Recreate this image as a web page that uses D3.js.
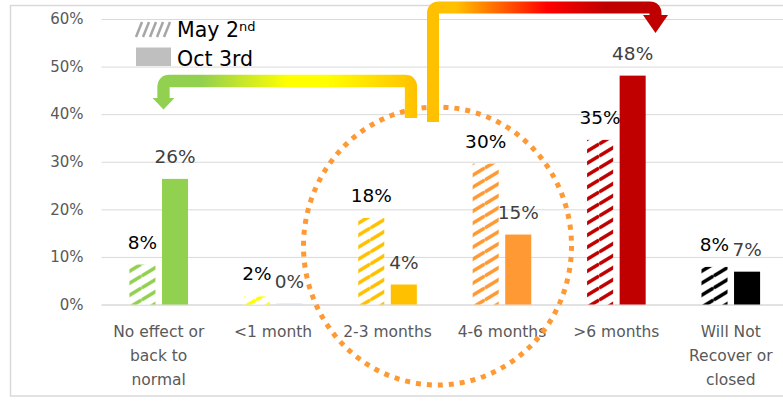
<!DOCTYPE html>
<html>
<head>
<meta charset="utf-8">
<script src="https://cdn.jsdelivr.net/npm/d3@7"></script>
<style>
  body { margin: 0; background: #fff; }
  text { font-family: "DejaVu Sans", sans-serif; }
</style>
</head>
<body>
<div id="chart"></div>
<script>
const categories = ["No effect or\nback to\nnormal", "<1 month", "2-3 months", "4-6 months", ">6 months", "Will Not\nRecover or\nclosed"];
const series = ["May", "Oct"];
const mayValues = [8.4, 1.7, 18.2, 29.6, 34.6, 7.9];
const octValues = [26.4, 0.2, 4.2, 14.7, 48.1, 6.9];
const catColors = ["#92D050", "#FFFF00", "#FFC000", "#FF9933", "#C00000", "#000000"];
const yTicks = [0, 10, 20, 30, 40, 50, 60];

document.addEventListener("DOMContentLoaded", function() {

  const width = 783;
  const height = 401;

  const svg = d3.select("#chart")
                .append("svg")
                .attr("width", width)
                .attr("height", height);

  const defs = svg.append("defs");

  // hatch patterns for the May bars
  catColors.forEach((c, i) => {
    const p = defs.append("pattern")
                  .attr("id", "hatch" + i)
                  .attr("patternUnits", "userSpaceOnUse")
                  .attr("width", 20)
                  .attr("height", 12);
    p.append("rect").attr("width", 20).attr("height", 12).attr("fill", "#fff");
    [-12, 0, 12].forEach(o => {
      p.append("line")
       .attr("x1", 0).attr("y1", 12 + o)
       .attr("x2", 20).attr("y2", o)
       .attr("stroke", c)
       .attr("stroke-width", 3.6);
    });
  });

  // gradients for the two arrows
  const g1 = defs.append("linearGradient")
                 .attr("id", "grad1")
                 .attr("gradientUnits", "userSpaceOnUse")
                 .attr("x1", 157).attr("x2", 418).attr("y1", 0).attr("y2", 0);
  [[0, "#92D050"], [0.17, "#92D050"], [0.5, "#FFFF00"], [0.65, "#FFFF00"], [1, "#FFC000"]]
    .forEach(s => g1.append("stop").attr("offset", s[0]).attr("stop-color", s[1]));

  const g2 = defs.append("linearGradient")
                 .attr("id", "grad2")
                 .attr("gradientUnits", "userSpaceOnUse")
                 .attr("x1", 427).attr("x2", 668).attr("y1", 0).attr("y2", 0);
  [[0, "#FFC000"], [0.12, "#FFC000"], [0.5, "#FF0000"], [0.74, "#C00000"], [1, "#C00000"]]
    .forEach(s => g2.append("stop").attr("offset", s[0]).attr("stop-color", s[1]));

  // chart border
  svg.append("rect")
     .attr("x", 10.5).attr("y", 5.5)
     .attr("width", 800).attr("height", 390.5)
     .attr("fill", "none")
     .attr("stroke", "#D9D9D9")
     .attr("stroke-width", 1.5);

  const x = d3.scaleBand()
              .domain(categories)
              .range([101.5, 788]);

  const bw = x.bandwidth();
  const xSub = d3.scaleBand()
                 .domain(series)
                 .range([bw / 2 - 29.3, bw / 2 + 29.3])
                 .paddingInner(0.2);

  const y = d3.scaleLinear()
              .domain([0, 60])
              .range([304.5, 19]);

  // gridlines + y labels
  const yAxis = svg.append("g")
                   .attr("transform", "translate(101.5,0)")
                   .call(d3.axisLeft(y)
                           .tickValues(yTicks)
                           .tickSize(-700)
                           .tickPadding(18)
                           .tickFormat(d => d + "%"));
  yAxis.select(".domain").remove();
  yAxis.selectAll(".tick line")
       .attr("stroke", "#D9D9D9")
       .attr("stroke-width", d => d === 0 ? 1.5 : 1);
  yAxis.selectAll(".tick text")
       .attr("fill", "#595959")
       .style("font-size", "15px")
       .style("font-family", "DejaVu Sans");

  // x labels
  const xLab = svg.append("g");
  categories.forEach(c => {
    const t = xLab.append("text")
                  .attr("x", x(c) + bw / 2)
                  .attr("y", 336.5)
                  .attr("text-anchor", "middle")
                  .attr("fill", "#595959")
                  .style("font-size", "15.5px");
    c.split("\n").forEach((line, i) => {
      t.append("tspan")
       .attr("x", x(c) + bw / 2)
       .attr("dy", i === 0 ? 0 : 24)
       .text(line);
    });
  });

  const rows = categories.map((c, i) => ({ cat: c, i: i, may: mayValues[i], oct: octValues[i] }));

  const groups = svg.selectAll(".grp")
                    .data(rows)
                    .enter().append("g")
                    .attr("class", "grp")
                    .attr("transform", d => `translate(${x(d.cat)},0)`);

  groups.append("rect")
        .attr("x", xSub("May"))
        .attr("width", xSub.bandwidth())
        .attr("y", d => y(d.may))
        .attr("height", d => y(0) - y(d.may))
        .attr("fill", d => `url(#hatch${d.i})`);

  groups.append("rect")
        .attr("x", xSub("Oct"))
        .attr("width", xSub.bandwidth())
        .attr("y", d => y(d.oct))
        .attr("height", d => y(0) - y(d.oct))
        .attr("fill", d => d.oct < 1 ? "#D6DCE5" : catColors[d.i]);

  groups.append("text")
        .attr("x", xSub("May") + xSub.bandwidth() / 2)
        .attr("y", d => y(d.may) - 16)
        .attr("text-anchor", "middle")
        .attr("fill", "#000")
        .style("font-size", "18.5px")
        .text(d => Math.round(d.may) + "%");

  groups.append("text")
        .attr("x", xSub("Oct") + xSub.bandwidth() / 2)
        .attr("y", d => y(d.oct) - 16)
        .attr("text-anchor", "middle")
        .attr("fill", "#404040")
        .style("font-size", "18.5px")
        .text(d => Math.round(d.oct) + "%");

  // dotted circle
  svg.append("ellipse")
     .attr("cx", 437.5).attr("cy", 246)
     .attr("rx", 134).attr("ry", 139)
     .attr("fill", "none")
     .attr("stroke", "#FF9933")
     .attr("stroke-width", 5)
     .attr("stroke-dasharray", "5 6");

  // arrows
  svg.append("path")
     .attr("d", "M411,118 V87 Q411,81 405,81 H169.5 Q163.5,81 163.5,87 V98.5")
     .attr("fill", "none")
     .attr("stroke", "url(#grad1)")
     .attr("stroke-width", 12.3);
  svg.append("path")
     .attr("d", "M152.5,98 L174.5,98 L163.5,109.5 Z")
     .attr("fill", "url(#grad1)");

  svg.append("path")
     .attr("d", "M433,122 V13.5 Q433,7.5 439,7.5 H649.5 Q655.5,7.5 655.5,13.5 V15.5")
     .attr("fill", "none")
     .attr("stroke", "url(#grad2)")
     .attr("stroke-width", 12);
  svg.append("path")
     .attr("d", "M643,15 L668,15 L655.5,33 Z")
     .attr("fill", "url(#grad2)");

  // legend
  const legend = svg.append("g");
  for (let i = 0; i < 5; i++) {
    legend.append("line")
          .attr("x1", 136 + i * 7).attr("y1", 37)
          .attr("x2", 142 + i * 7).attr("y2", 22)
          .attr("stroke", "#A6A6A6")
          .attr("stroke-width", 2.5);
  }
  const t1 = legend.append("text")
                   .attr("x", 177).attr("y", 37)
                   .attr("fill", "#000")
                   .style("font-size", "20.5px");
  t1.append("tspan").text("May 2");
  t1.append("tspan").attr("dy", -6).style("font-size", "13px").text("nd");

  legend.append("rect")
        .attr("x", 136).attr("y", 47.5)
        .attr("width", 35).attr("height", 18.5)
        .attr("fill", "#BFBFBF");
  legend.append("text")
        .attr("x", 177).attr("y", 66)
        .attr("fill", "#000")
        .style("font-size", "20.5px")
        .text("Oct 3rd");
});
</script>
</body>
</html>
